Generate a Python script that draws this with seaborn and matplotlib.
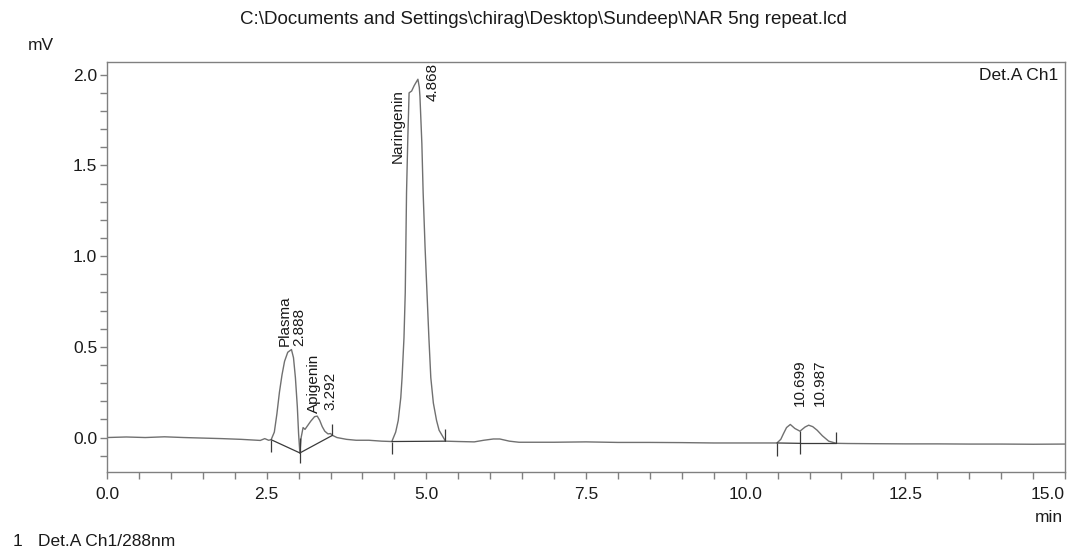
import numpy as np
import pandas as pd
import matplotlib
matplotlib.use('Agg')
import matplotlib.pyplot as plt
from matplotlib.ticker import MultipleLocator
import seaborn as sns

# ── Data ────────────────────────────────────────────────────────
time_min = [
    0.00, 0.30, 0.60, 0.90, 1.20, 1.50, 1.80, 2.10, 2.40, 2.47, 2.53, 2.57,
    2.62, 2.66, 2.70, 2.74, 2.78, 2.83, 2.888, 2.92, 2.95, 2.98, 3.00, 3.02,
    3.04, 3.07, 3.10, 3.14, 3.19, 3.25, 3.292, 3.33, 3.37, 3.41, 3.46, 3.50,
    3.53, 3.60, 3.75, 3.90, 4.10, 4.30, 4.46, 4.52, 4.56, 4.60, 4.62, 4.65,
    4.67, 4.69, 4.71, 4.73, 4.77, 4.81, 4.868, 4.89, 4.90, 4.93, 4.95, 4.98,
    5.01, 5.04, 5.07, 5.11, 5.16, 5.20, 5.25, 5.30, 5.50, 5.75, 5.90, 6.05,
    6.15, 6.30, 6.45, 7.00, 7.50, 8.00, 8.50, 9.00, 9.50, 10.00, 10.30, 10.49,
    10.55, 10.59, 10.64, 10.699, 10.77, 10.85, 10.93, 10.987, 11.05, 11.12, 11.20, 11.30,
    11.42, 11.60, 12.00, 12.50, 13.00, 13.50, 14.00, 14.50, 15.00,
]
signal_mv = [
    0.000, 0.003, 0.000, 0.004, 0.000, -0.003, -0.006, -0.010, -0.016, -0.006, -0.015, -0.012,
    0.030, 0.130, 0.250, 0.345, 0.420, 0.470, 0.485, 0.440, 0.330, 0.170, 0.020, -0.085,
    0.000, 0.055, 0.045, 0.065, 0.090, 0.115, 0.118, 0.095, 0.060, 0.035, 0.020, 0.022,
    0.012, 0.000, -0.010, -0.015, -0.015, -0.020, -0.022, 0.030, 0.094, 0.220, 0.330, 0.550,
    0.800, 1.350, 1.650, 1.900, 1.910, 1.940, 1.975, 1.930, 1.880, 1.620, 1.350, 1.050,
    0.800, 0.550, 0.330, 0.190, 0.094, 0.040, 0.010, -0.020, -0.022, -0.024, -0.015, -0.008,
    -0.008, -0.020, -0.026, -0.026, -0.024, -0.027, -0.027, -0.028, -0.030, -0.030, -0.030, -0.030,
    -0.010, 0.020, 0.055, 0.072, 0.050, 0.035, 0.058, 0.068, 0.060, 0.040, 0.010, -0.020,
    -0.032, -0.033, -0.034, -0.035, -0.035, -0.036, -0.036, -0.037, -0.036,
]

# peak table
peak_rt = [2.888, 3.292, 4.868, 10.699, 10.987]
peak_height = [0.485, 0.118, 1.975, 0.072, 0.068]
peak_name = ["Plasma", "Apigenin", "Naringenin", "", ""]

# integration boundaries (time, baseline level, kind)
bound_t = [2.57, 3.02, 3.53, 4.46, 5.30, 10.49, 10.85, 11.42]
bound_y = [-0.012, -0.085, 0.012, -0.022, -0.020, -0.030, -0.032, -0.032]
bound_kind = ["start", "both", "end", "start", "end", "start", "drop", "end"]
bound_top = [None, None, None, None, None, None, 0.035, None]
# baseline segments drawn between boundary indices
segments = [(0, 1), (1, 2), (3, 4), (5, 6), (6, 7)]

df = pd.DataFrame({"min": time_min, "mV": signal_mv})

# ── Style ─────────────────────────────────────────────────────────
sns.set_theme(style="ticks")
plt.rcParams['font.family'] = ['Liberation Sans', 'DejaVu Sans']
TXT = '#1a1a1a'
FRAME = '#808080'

W, H = 1070, 550
fig = plt.figure(figsize=(W / 100, H / 100), dpi=100)
ax = fig.add_axes([107 / W, 1 - 472 / H, (1065 - 107) / W, (472 - 62) / H])

sns.lineplot(data=df, x="min", y="mV", ax=ax, color='#707070',
             linewidth=1.0, sort=False, estimator=None)

# integration baselines
for i, j in segments:
    ax.plot([bound_t[i], bound_t[j]], [bound_y[i], bound_y[j]],
            color='#3a3a3a', linewidth=0.9)

# boundary markers
for t, y, kind, top in zip(bound_t, bound_y, bound_kind, bound_top):
    if kind == "start":
        lo, hi = y - 0.07, y
    elif kind == "end":
        lo, hi = y, y + 0.065
    elif kind == "drop":
        lo, hi = y - 0.06, top
    else:
        lo, hi = y - 0.055, y + 0.08
    ax.vlines(t, lo, hi, color='#3a3a3a', linewidth=0.9)

# peak labels (offsets in pixels)
LBL = 11
name_off = [(-7, 4), (-3, 3), (-20, -10)]
time_off = [(8, 4), (13, 6), (15, 0), (10, 18), (11, 19)]
for k, (rt, h, nm) in enumerate(zip(peak_rt, peak_height, peak_name)):
    if nm:
        dx, dy = name_off[k]
        ax.annotate(nm, xy=(rt, h), xytext=(dx, dy), textcoords='offset pixels',
                    rotation=90, ha='center', va='top' if dy < 0 else 'bottom',
                    fontsize=LBL, color=TXT)
    dx, dy = time_off[k]
    if h > 1.9:
        ax.annotate(f"{rt:.3f}", xy=(rt, 2.07), xytext=(dx, -1), textcoords='offset pixels',
                    rotation=90, ha='center', va='top', fontsize=LBL, color=TXT)
    else:
        ax.annotate(f"{rt:.3f}", xy=(rt, h), xytext=(dx, dy), textcoords='offset pixels',
                    rotation=90, ha='center', va='bottom', fontsize=LBL, color=TXT)

ax.set_xlim(0, 15)
ax.set_ylim(-0.19, 2.07)
xt = [0, 2.5, 5, 7.5, 10, 12.5, 15]
ax.set_xticks(xt)
ax.set_xticklabels([f"{v:.1f}" for v in xt])
ax.get_xticklabels()[-1].set_horizontalalignment('right')
ax.xaxis.set_minor_locator(MultipleLocator(0.5))
yt = [0, 0.5, 1.0, 1.5, 2.0]
ax.set_yticks(yt)
ax.set_yticklabels([f"{v:.1f}" for v in yt])
ax.yaxis.set_minor_locator(MultipleLocator(0.1))
ax.set_xlabel("")
ax.set_ylabel("")

for s in ax.spines.values():
    s.set_visible(True)
    s.set_color(FRAME)
    s.set_linewidth(1.0)
ax.tick_params(which='both', direction='out', color=FRAME, width=1.0)
ax.tick_params(axis='x', which='major', length=5, pad=6, labelsize=12.5, labelcolor=TXT)
ax.tick_params(axis='x', which='minor', length=5)
ax.tick_params(axis='y', which='major', length=5, pad=2, labelsize=12.5, labelcolor=TXT)
ax.tick_params(axis='y', which='minor', length=5)

ax.text(0.9927, 0.985, "Det.A Ch1", transform=ax.transAxes, ha='right', va='top',
        fontsize=12.5, color=TXT)

fig.text(543 / W, 1 - 20 / H, r"C:\Documents and Settings\chirag\Desktop\Sundeep\NAR 5ng repeat.lcd",
         ha='center', va='center', fontsize=13.5, color=TXT)
fig.text(28 / W, 1 - 46 / H, "mV", ha='left', va='center', fontsize=12.5, color=TXT)
fig.text(1063 / W, 1 - 518 / H, "min", ha='right', va='center', fontsize=12.5, color=TXT)
fig.text(13 / W, 1 - 541 / H, "1", ha='left', va='center', fontsize=12.5, color=TXT)
fig.text(38 / W, 1 - 541 / H, "Det.A Ch1/288nm", ha='left', va='center', fontsize=12.5, color=TXT)

fig.savefig("out.png", dpi=100)
